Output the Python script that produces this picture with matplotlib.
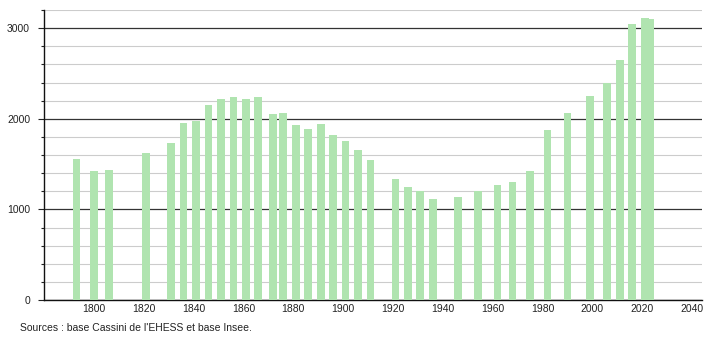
import matplotlib.pyplot as plt
from matplotlib.ticker import MultipleLocator

years = [1793, 1800, 1806, 1821, 1831, 1836, 1841, 1846, 1851, 1856, 1861, 1866,
         1872, 1876, 1881, 1886, 1891, 1896, 1901, 1906, 1911, 1921, 1926, 1931,
         1936, 1946, 1954, 1962, 1968, 1975, 1982, 1990, 1999, 2006, 2011, 2016,
         2021, 2023]
population = [1560, 1428, 1430, 1624, 1735, 1957, 1971, 2148, 2218, 2237, 2222, 2237,
              2049, 2067, 1934, 1883, 1938, 1824, 1750, 1650, 1550, 1340, 1244, 1200,
              1115, 1141, 1207, 1273, 1307, 1428, 1871, 2060, 2248, 2396, 2647, 3045,
              3112, 3098]
xticks = list(range(1800, 2041, 20))
source = "Sources : base Cassini de l'EHESS et base Insee."

plt.rcParams['font.family'] = ['Liberation Sans', 'DejaVu Sans']

fig = plt.figure(figsize=(7.1, 3.4), dpi=100)
ax = fig.add_axes([44 / 710, 1 - 300 / 340, (702 - 44) / 710, 290 / 340])

ax.bar(years, population, width=3.1, color='#b0e4b0', zorder=3)

ax.set_xlim(1780, 2044)
ax.set_ylim(0, 3200)
ax.yaxis.set_major_locator(MultipleLocator(1000))
ax.yaxis.set_minor_locator(MultipleLocator(200))
ax.grid(which='minor', axis='y', color='#cccccc', linewidth=0.8, zorder=1)
ax.grid(which='major', axis='y', color='#333333', linewidth=0.9, zorder=2)

ax.set_xticks(xticks)
ax.tick_params(axis='x', length=0, pad=3, labelsize=7.5, colors='#222222')
ax.tick_params(axis='y', which='major', length=4, width=0.8, pad=6, labelsize=7.5,
               colors='#222222')
ax.tick_params(axis='y', which='minor', length=2, width=0.8, color='#222222')

for s in ['top', 'right']:
    ax.spines[s].set_visible(False)
for s in ['left', 'bottom']:
    ax.spines[s].set_color('#111111')
    ax.spines[s].set_linewidth(1)

fig.text(20 / 710, 1 - 328 / 340, source, fontsize=7.5, color='#222222', va='center')

fig.savefig('out.png', dpi=100)
